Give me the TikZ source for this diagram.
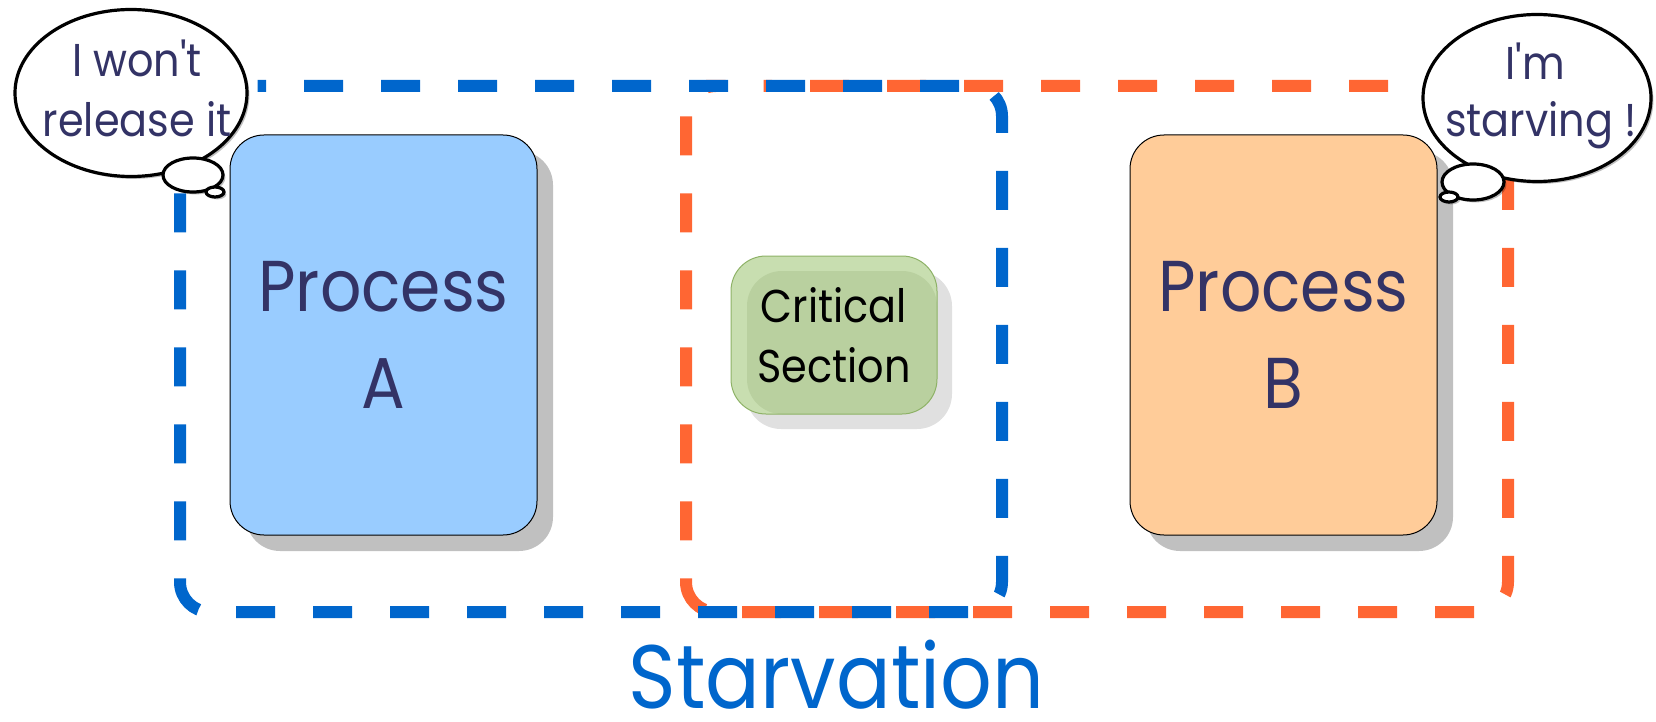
\documentclass[tikz,border=0pt]{standalone}
\usepackage{fontspec}
\newfontfamily\handfont[Ligatures=TeXOff, FakeStretch=0.9]{Poppins}
\usetikzlibrary{shapes.geometric,shadows,calc}

\definecolor{procblue}{HTML}{99CCFF}
\definecolor{procorange}{HTML}{FFCC99}
\definecolor{boxshadow}{HTML}{C0C0C0}
\definecolor{critfill}{HTML}{C8DEB0}
\definecolor{critinner}{HTML}{B9D09F}
\definecolor{critborder}{HTML}{8EB267}
\definecolor{critshadow}{HTML}{E0E0E0}
\definecolor{lineblue}{HTML}{0066CC}
\definecolor{lineorange}{HTML}{FF6633}
\definecolor{inkblue}{HTML}{333366}

\tikzset{
  region/.style={line width=6pt, dash pattern=on 19.5pt off 19pt,
    dash phase=16.5pt, rounded corners=15pt},
  process/.style={rectangle, rounded corners=17pt, draw=black,
    line width=0.5pt, minimum width=153.5pt, minimum height=200pt,
    inner sep=0pt, align=center, text=inkblue,
    font=\handfont\fontsize{36}{48.5}\selectfont,
    drop shadow={shadow xshift=8pt, shadow yshift=-8pt,
      fill=boxshadow, opacity=1}},
  critical/.style={rectangle, rounded corners=17.5pt, draw=critborder,
    line width=0.5pt, fill=critfill, minimum width=103pt,
    minimum height=79pt, inner sep=0pt, align=center, text=black,
    font=\handfont\fontsize{23}{30}\selectfont,
    drop shadow={shadow xshift=7.5pt, shadow yshift=-7.5pt,
      fill=critshadow, opacity=1},
    path picture={\fill[critinner, rounded corners=17.5pt]
      ([xshift=8pt,yshift=-7.5pt]path picture bounding box.north west)
      rectangle (path picture bounding box.south east);}},
  thought/.style={ellipse, draw=black, line width=1.6pt, fill=white,
    inner sep=0pt,
    drop shadow={shadow xshift=1.2pt, shadow yshift=-1.2pt,
      fill=black, opacity=0.25}},
  thoughttext/.style={text=inkblue, inner sep=0pt, anchor=base,
    font=\handfont\fontsize{23}{30}\selectfont},
}

\begin{document}
\begin{tikzpicture}[x=0.5pt, y=-0.5pt]
\useasboundingbox (0,0) rectangle (1656,722);

% dashed regions: orange first, blue on top
\draw[region, lineorange] (736,86) -- (1508,86) -- (1508,612) -- (686,612)
  -- (686,86) -- cycle;
\draw[region, lineblue] (230,86) -- (1002,86) -- (1002,612) -- (180,612)
  -- (180,86) -- cycle;

% processes and the shared resource
\node[process, fill=procblue] (procA) at (383.5,335) {Process\\A};
\node[process, fill=procorange] (procB) at (1283.5,335) {Process\\B};
\node[critical] (crit) at (834,335) {Critical\\Section};

% thought bubble of process A
\node[thought, minimum width=116pt, minimum height=83.5pt] (bubA) at (131,93) {};
\node[thought, minimum width=30pt, minimum height=17pt] (bubAs) at (193,175) {};
\node[thought, minimum width=9pt, minimum height=5pt] (bubAt) at (215,192) {};
\node[thoughttext] (sayA1) at (137,77) {I won't};
\node[thoughttext] (sayA2) at (137,137) {release it};

% thought bubble of process B
\node[thought, minimum width=114pt, minimum height=83.5pt] (bubB) at (1537,98) {};
\node[thought, minimum width=31pt, minimum height=18pt] (bubBs) at (1473,182) {};
\node[thought, minimum width=9pt, minimum height=5pt] (bubBt) at (1449,197) {};
\node[thoughttext] (sayB1) at (1535,80) {I'm};
\node[thoughttext] (sayB2) at (1541,137) {starving !};

% caption
\node[anchor=base, inner sep=0pt, text=lineblue,
  font=\handfont\fontsize{45}{54}\selectfont] (title) at (836.5,708) {Starvation};
\end{tikzpicture}
\end{document}
